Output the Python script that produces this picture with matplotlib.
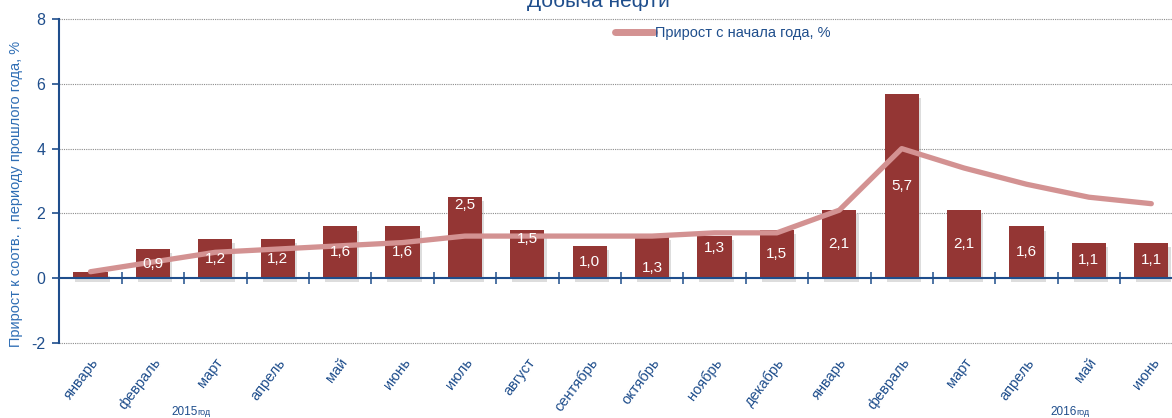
import numpy as np
import matplotlib
matplotlib.use("Agg")
import matplotlib.pyplot as plt
import matplotlib.patheffects as pe
from matplotlib.lines import Line2D

# ---- data ----
months = ["январь", "февраль", "март", "апрель", "май", "июнь", "июль", "август",
          "сентябрь", "октябрь", "ноябрь", "декабрь",
          "январь", "февраль", "март", "апрель", "май", "июнь"]
yoy_growth = [0.2, 0.9, 1.2, 1.2, 1.6, 1.6, 2.5, 1.5, 1.0, 1.3, 1.3, 1.5,
              2.1, 5.7, 2.1, 1.6, 1.1, 1.1]
ytd_growth = [0.2, 0.5, 0.8, 0.9, 1.0, 1.1, 1.3, 1.3, 1.3, 1.3, 1.4, 1.4,
              2.1, 4.0, 3.4, 2.9, 2.5, 2.3]
year_labels = ["2015", "2016"]

title = "Добыча нефти"
ylabel = "Прирост к соотв. , периоду прошлого года, %"
legend_label = "Прирост с начала года, %"

# ---- style ----
BAR = "#943634"
LINE = "#d39292"
BLUE = "#1f4e8c"
YLAB = "#2e6db4"
GRID = "#8c8c8c"
FONT = ["Liberation Sans", "DejaVu Sans"]

W, H = 1172, 418
fig = plt.figure(figsize=(W / 100, H / 100), dpi=100)
# axes runs slightly past the right edge, as in the reference crop
ax = fig.add_axes([59.3 / W, 75 / H, 18 * 62.4 / W, 324 / H])

x = np.arange(len(months))
bars = ax.bar(x, yoy_growth, width=0.55, color=BAR, zorder=2)
for b in bars:
    b.set_path_effects([pe.SimplePatchShadow(offset=(1.5, -3), shadow_rgbFace="#666666", alpha=0.22),
                        pe.Normal()])

ax.plot(x, ytd_growth, color=LINE, lw=3.8, solid_capstyle="round",
        solid_joinstyle="round", zorder=3)

# data labels (a few were moved by hand in the original)
label_y = {6: 2.25, 7: 1.22, 9: 0.32, 10: 0.92}
for i, v in enumerate(yoy_growth):
    if i == 0:
        continue
    yy = label_y.get(i, v / 2)
    ax.text(i, yy, f"{v:.1f}".replace(".", ","), color="white", ha="center",
            va="center", fontsize=11, family=FONT, zorder=4)

ax.set_xlim(-0.5, len(months) - 0.5)
ax.set_ylim(-2, 8)
ax.set_yticks([-2, 0, 2, 4, 6, 8])
ax.set_yticklabels(["-2", "0", "2", "4", "6", "8"], family=FONT, fontsize=11.5, color=BLUE)
ax.tick_params(axis="y", direction="out", length=5, width=1.2, color=BLUE, pad=5)

for yv in [-2, 2, 4, 6, 8]:
    ax.axhline(yv, color=GRID, lw=0.8, ls=(0, (1, 1)), zorder=1, clip_on=False)

for s in ["top", "right"]:
    ax.spines[s].set_visible(False)
ax.spines["left"].set_color(BLUE)
ax.spines["left"].set_linewidth(1.5)
ax.spines["bottom"].set_position(("data", 0))
ax.spines["bottom"].set_color(BLUE)
ax.spines["bottom"].set_linewidth(1.5)
ax.spines["bottom"].set_zorder(5)

ax.set_xticks(x[1:] - 0.5)
ax.set_xticklabels([])
ax.tick_params(axis="x", direction="inout", length=9, width=1.1, color=BLUE)

for i, m in enumerate(months):
    ax.annotate(m, xy=(i, -2), xycoords="data", xytext=(5, -17), textcoords="offset pixels",
                rotation=53, rotation_mode="anchor", ha="right", va="center",
                fontsize=10.5, family=FONT, color=BLUE)

ax.set_ylabel(ylabel, family=FONT, fontsize=10.5, color=YLAB)
ax.yaxis.set_label_coords(-0.032, 0.46)

# year captions
fig.text(171 / W, 3 / H, year_labels[0], fontsize=8.5, family=FONT, color=BLUE, va="baseline")
fig.text(197 / W, 3 / H, "год", fontsize=6.5, family=FONT, color=BLUE, va="baseline")
fig.text(1050 / W, 3 / H, year_labels[1], fontsize=8.5, family=FONT, color=BLUE, va="baseline")
fig.text(1076 / W, 3 / H, "год", fontsize=6.5, family=FONT, color=BLUE, va="baseline")

fig.text(598 / W, 1 - 7 / H, title, ha="center", va="baseline", fontsize=15,
         family=FONT, color=BLUE)

handle = Line2D([], [], color=LINE, lw=5, solid_capstyle="round")
fig.legend([handle], [legend_label], loc="center left", bbox_to_anchor=(615 / W, 1 - 33 / H),
           frameon=False, handlelength=2.7, handletextpad=0.05, borderpad=0, borderaxespad=0,
           prop={"family": FONT, "size": 10.5}, labelcolor=BLUE)

fig.savefig("out.png", dpi=100)
